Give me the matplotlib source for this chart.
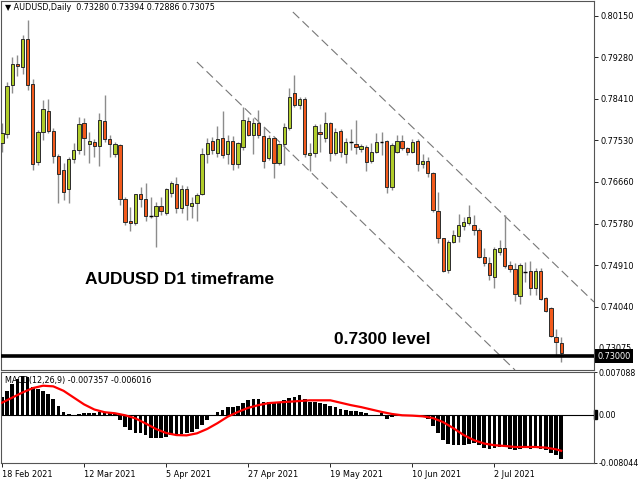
import matplotlib
matplotlib.use("Agg")
import matplotlib.pyplot as plt
from matplotlib.patches import Rectangle
import numpy as np

# daily AUDUSD bars, oldest first
opens = [
    0.77477, 0.77666, 0.78695, 0.79136, 0.79073, 0.79661, 0.78716, 0.77078, 0.77708, 0.78149,
    0.77729, 0.77204, 0.76910, 0.76511, 0.77141, 0.77330, 0.77897, 0.77456, 0.77498, 0.77414,
    0.77939, 0.77561, 0.77246, 0.77435, 0.76301, 0.75839, 0.75797, 0.76406, 0.76301, 0.75944,
    0.75944, 0.76154, 0.76007, 0.76427, 0.76616, 0.76112, 0.76511, 0.76154, 0.76217, 0.76406,
    0.77246, 0.77519, 0.77267, 0.77582, 0.77246, 0.77519, 0.77036, 0.77393, 0.77939, 0.77645,
    0.77897, 0.77624, 0.77162, 0.77582, 0.77057, 0.77456, 0.77792, 0.78527, 0.78275, 0.78401,
    0.77225, 0.77267, 0.77708, 0.77582, 0.77897, 0.77267, 0.77729, 0.77246, 0.77498, 0.77456,
    0.77351, 0.77393, 0.77099, 0.77288, 0.77498, 0.77519, 0.76553, 0.77288, 0.77519, 0.77372,
    0.77288, 0.77519, 0.77036, 0.77099, 0.76847, 0.76049, 0.75482, 0.74810, 0.75398, 0.75524,
    0.75734, 0.75797, 0.75755, 0.75650, 0.75083, 0.74957, 0.74663, 0.75188, 0.75272, 0.74915,
    0.74831, 0.74264, 0.74768, 0.74789, 0.74432, 0.74789, 0.74222, 0.74012, 0.73403, 0.73280,
]
highs = [
    0.77897, 0.78758, 0.79283, 0.79325, 0.79745, 0.80060, 0.78821, 0.77750, 0.78380, 0.78401,
    0.77792, 0.77246, 0.77057, 0.77183, 0.77477, 0.78023, 0.78002, 0.77708, 0.77561, 0.78107,
    0.78485, 0.77645, 0.77498, 0.77456, 0.76343, 0.76133, 0.76406, 0.76553, 0.76637, 0.76343,
    0.76238, 0.76343, 0.76532, 0.76679, 0.76763, 0.76595, 0.76574, 0.76343, 0.76427, 0.77372,
    0.77582, 0.77603, 0.77834, 0.78149, 0.77645, 0.77624, 0.77498, 0.78233, 0.78023, 0.78002,
    0.78170, 0.77813, 0.77645, 0.77603, 0.77477, 0.77897, 0.78632, 0.78905, 0.78443, 0.78443,
    0.77477, 0.77876, 0.77876, 0.78128, 0.77918, 0.77792, 0.77771, 0.77582, 0.77771, 0.77960,
    0.77456, 0.77435, 0.77477, 0.77687, 0.77708, 0.77540, 0.77477, 0.77645, 0.77645, 0.77393,
    0.77561, 0.77561, 0.77246, 0.77183, 0.76868, 0.76448, 0.75482, 0.75440, 0.75650, 0.75986,
    0.75923, 0.76175, 0.75965, 0.75692, 0.75272, 0.75083, 0.75293, 0.75440, 0.75965, 0.74999,
    0.74957, 0.74957, 0.74978, 0.74999, 0.74852, 0.74852, 0.74243, 0.74033, 0.73571, 0.73394,
]
lows = [
    0.77288, 0.77582, 0.78527, 0.78884, 0.78926, 0.78590, 0.76910, 0.77015, 0.77540, 0.77687,
    0.77057, 0.76217, 0.76280, 0.76217, 0.77057, 0.77246, 0.77225, 0.77057, 0.77183, 0.76994,
    0.77498, 0.77183, 0.77183, 0.76175, 0.75755, 0.75629, 0.75755, 0.76133, 0.75839, 0.75902,
    0.75293, 0.75965, 0.75965, 0.76343, 0.76007, 0.76007, 0.75860, 0.75902, 0.75839, 0.76385,
    0.77057, 0.77246, 0.77183, 0.77162, 0.77036, 0.76910, 0.76952, 0.77330, 0.77624, 0.77246,
    0.77582, 0.76952, 0.77120, 0.76742, 0.77015, 0.77015, 0.77750, 0.78233, 0.78191, 0.77183,
    0.76889, 0.77183, 0.77288, 0.77498, 0.77099, 0.77225, 0.77183, 0.77057, 0.77330, 0.77246,
    0.77288, 0.76889, 0.77057, 0.77267, 0.77225, 0.76427, 0.76490, 0.77267, 0.77330, 0.77225,
    0.77267, 0.76889, 0.76952, 0.76763, 0.76028, 0.75377, 0.74768, 0.74747, 0.75377, 0.75398,
    0.75650, 0.75755, 0.75545, 0.75062, 0.74894, 0.74600, 0.74432, 0.75125, 0.74852, 0.74768,
    0.74159, 0.74096, 0.74558, 0.74285, 0.74285, 0.74180, 0.73928, 0.73403, 0.73025, 0.72886,
]
closes = [
    0.77687, 0.78674, 0.79136, 0.79094, 0.79661, 0.78695, 0.77036, 0.77708, 0.78191, 0.77729,
    0.77204, 0.76826, 0.76448, 0.77141, 0.77330, 0.77876, 0.77582, 0.77519, 0.77414, 0.77960,
    0.77561, 0.77456, 0.77456, 0.76301, 0.75818, 0.75797, 0.76406, 0.76301, 0.75944, 0.75944,
    0.76154, 0.76049, 0.76511, 0.76637, 0.76112, 0.76511, 0.76175, 0.76217, 0.76385, 0.77246,
    0.77477, 0.77330, 0.77561, 0.77225, 0.77519, 0.77036, 0.77477, 0.77960, 0.77645, 0.77897,
    0.77645, 0.77099, 0.77582, 0.77057, 0.77456, 0.77813, 0.78443, 0.78275, 0.78401, 0.77246,
    0.77267, 0.77834, 0.77666, 0.77897, 0.77267, 0.77708, 0.77288, 0.77498, 0.77498, 0.77393,
    0.77414, 0.77078, 0.77288, 0.77498, 0.77498, 0.76553, 0.77435, 0.77519, 0.77372, 0.77288,
    0.77498, 0.77036, 0.77099, 0.76847, 0.76070, 0.75482, 0.74789, 0.75398, 0.75545, 0.75755,
    0.75818, 0.75923, 0.75650, 0.75083, 0.74957, 0.74705, 0.75251, 0.75272, 0.74894, 0.74831,
    0.74306, 0.74915, 0.74768, 0.74432, 0.74789, 0.74201, 0.73949, 0.73424, 0.73298, 0.73075,
]

# MACD(12,26,9) main histogram and signal line
macd_hist = [
    0.00300, 0.00396, 0.00509, 0.00594, 0.00634, 0.00623, 0.00453, 0.00425, 0.00396, 0.00340,
    0.00255, 0.00142, 0.00040, 0.00011, -0.00006, 0.00017, 0.00028, 0.00028, 0.00028, 0.00040,
    0.00040, 0.00028, 0.00017, -0.00085, -0.00198, -0.00255, -0.00300, -0.00311, -0.00340, -0.00385,
    -0.00396, -0.00396, -0.00368, -0.00340, -0.00340, -0.00328, -0.00311, -0.00283, -0.00243, -0.00170,
    -0.00085, -0.00028, 0.00040, 0.00085, 0.00125, 0.00125, 0.00142, 0.00198, 0.00238, 0.00255,
    0.00255, 0.00215, 0.00215, 0.00215, 0.00215, 0.00238, 0.00283, 0.00294, 0.00328, 0.00255,
    0.00209, 0.00209, 0.00192, 0.00181, 0.00136, 0.00125, 0.00096, 0.00085, 0.00068, 0.00057,
    0.00040, 0.00023, -0.00028, -0.00011, 0.00023, -0.00074, -0.00045, -0.00028, -0.00017, -0.00017,
    -0.00017, -0.00028, -0.00040, -0.00068, -0.00181, -0.00311, -0.00425, -0.00481, -0.00509, -0.00509,
    -0.00498, -0.00481, -0.00470, -0.00509, -0.00555, -0.00577, -0.00555, -0.00538, -0.00538, -0.00566,
    -0.00594, -0.00566, -0.00555, -0.00566, -0.00555, -0.00566, -0.00594, -0.00634, -0.00668, -0.007357,
]
signal_bars = list(range(0, 109, 2)) + [109]
signal_vals = [
    0.00198, 0.00283, 0.00368, 0.00441, 0.00481, 0.00470, 0.00396, 0.00283, 0.00170, 0.00085,
    0.00040, 0.00023, -0.00011, -0.00062, -0.00147, -0.00238, -0.00306, -0.00340, -0.00345, -0.00311,
    -0.00238, -0.00142, -0.00034, 0.00045, 0.00113, 0.00158, 0.00192, 0.00204, 0.00215, 0.00226,
    0.00238, 0.00238, 0.00238, 0.00198, 0.00158, 0.00125, 0.00085, 0.00045, 0.00011, -0.00011,
    -0.00017, -0.00028, -0.00057, -0.00125, -0.00226, -0.00340, -0.00425, -0.00481, -0.00509, -0.00521,
    -0.00538, -0.00538, -0.00538, -0.00549, -0.00577, -0.006016,
]

date_labels = ["18 Feb 2021", "12 Mar 2021", "5 Apr 2021", "27 Apr 2021",
               "19 May 2021", "10 Jun 2021", "2 Jul 2021"]
date_bars = [0, 16, 32, 48, 64, 80, 96]
price_ticks = [0.80150, 0.79280, 0.78410, 0.77530, 0.76660, 0.75780, 0.74910, 0.74040]
macd_ticks = [0.007088, 0.0, -0.008044]
level = 0.73000

# channel lines as (bar, price) end points
upper_channel = [(56.7, 0.80228), (115.4, 0.74138)]
lower_channel = [(38.0, 0.79178), (100.0, 0.72710)]

BULL = "#b0cc2a"
BEAR = "#f25a1c"
EDGE = "#2b2b2b"
WICK = "#8c8c8c"
FONT = "DejaVu Sans"

W, H = 640, 480
fig = plt.figure(figsize=(6.4, 4.8), dpi=100)
fig.patch.set_facecolor("white")

ax = fig.add_axes([1 / W, 1 - 370 / H, 593 / W, 369 / H])
ax_m = fig.add_axes([1 / W, 1 - 463 / H, 593 / W, 91 / H])

xlim = (-0.195, 115.4)
idx = np.arange(len(opens))
o = np.array(opens)
h = np.array(highs)
l = np.array(lows)
c = np.array(closes)

# candles
ax.vlines(idx, l, h, color=WICK, lw=1.0, zorder=2)
up = c > o
down = c < o
flat = c == o
ax.bar(idx[up], (c - o)[up], bottom=o[up], width=0.64, color=BULL,
       edgecolor=EDGE, linewidth=0.7, zorder=3)
ax.bar(idx[down], (o - c)[down], bottom=c[down], width=0.64, color=BEAR,
       edgecolor=EDGE, linewidth=0.7, zorder=3)
ax.hlines(o[flat], idx[flat] - 0.35, idx[flat] + 0.35, color="black", lw=1.0, zorder=3)

for line in (upper_channel, lower_channel):
    xs, ys = zip(*line)
    ax.plot(xs, ys, color="#777777", lw=0.8, dashes=(8, 4), zorder=1)

ax.axhline(level, color="black", lw=2.6, zorder=4)

ax.set_xlim(*xlim)
ax.set_ylim(0.72710, 0.80459)
ax.set_xticks([])
ax.yaxis.tick_right()
ax.set_yticks(price_ticks)
ax.set_yticklabels([f"{v:.5f}" for v in price_ticks], fontsize=5.9, family=FONT)
ax.tick_params(axis="y", length=3, width=0.6, pad=2, colors="black")
for s in ax.spines.values():
    s.set_color("#555555")
    s.set_linewidth(0.8)

# current price tag sits behind the level tag on the price scale
ax.text(1.008, 0.73160, f"{closes[-1]:.5f}", transform=ax.get_yaxis_transform(),
        fontsize=5.9, family=FONT, va="center", ha="left", color="black",
        clip_on=False, zorder=5)
ax.text(1.006, level, f"{level:.5f}", transform=ax.get_yaxis_transform(),
        fontsize=5.9, family=FONT, va="center", ha="left", color="white",
        bbox=dict(boxstyle="square,pad=0.3", fc="black", ec="none"), clip_on=False, zorder=6)

# MACD panel
ax_m.bar(idx, macd_hist, width=0.72, color="black", zorder=2)
ax_m.plot(signal_bars, signal_vals, color="#ff0000", lw=1.6, zorder=3)
ax_m.axhline(0, color="black", lw=0.8, zorder=1)
ax_m.set_xlim(*xlim)
ax_m.set_ylim(-0.008044, 0.007088)
ax_m.yaxis.tick_right()
ax_m.set_yticks(macd_ticks)
ax_m.set_yticklabels(["0.007088", "0.00", "-0.008044"], fontsize=5.7, family=FONT)
ax_m.tick_params(axis="y", length=2, width=0.6, pad=1)
ax_m.set_xticks(date_bars)
ax_m.set_xticklabels(date_labels, fontsize=5.9, family=FONT, ha="left")
ax_m.tick_params(axis="x", length=3, width=0.6, pad=2)
for s in ax_m.spines.values():
    s.set_color("#555555")
    s.set_linewidth(0.8)
# small value marker at the zero level on the MACD scale
ax_m.add_patch(Rectangle((1.0, -0.0008), 0.005, 0.0016, transform=ax_m.get_yaxis_transform(),
                         color="black", clip_on=False, zorder=1))

# captions
fig.text(5 / W, 1 - 8 / H, "\u25bc AUDUSD,Daily  0.73280 0.73394 0.72886 0.73075",
         fontsize=5.8, family=FONT, va="center", ha="left")
fig.text(5 / W, 1 - 380 / H, "MACD(12,26,9) -0.007357 -0.006016",
         fontsize=5.8, family=FONT, va="center", ha="left")
fig.text(85 / W, 1 - 280 / H, "AUDUSD D1 timeframe", fontsize=12.5,
         family="Liberation Sans", weight="bold", va="center", ha="left")
fig.text(334 / W, 1 - 340 / H, "0.7300 level", fontsize=12.5,
         family="Liberation Sans", weight="bold", va="center", ha="left")

fig.savefig("out.png", dpi=100, facecolor="white")
